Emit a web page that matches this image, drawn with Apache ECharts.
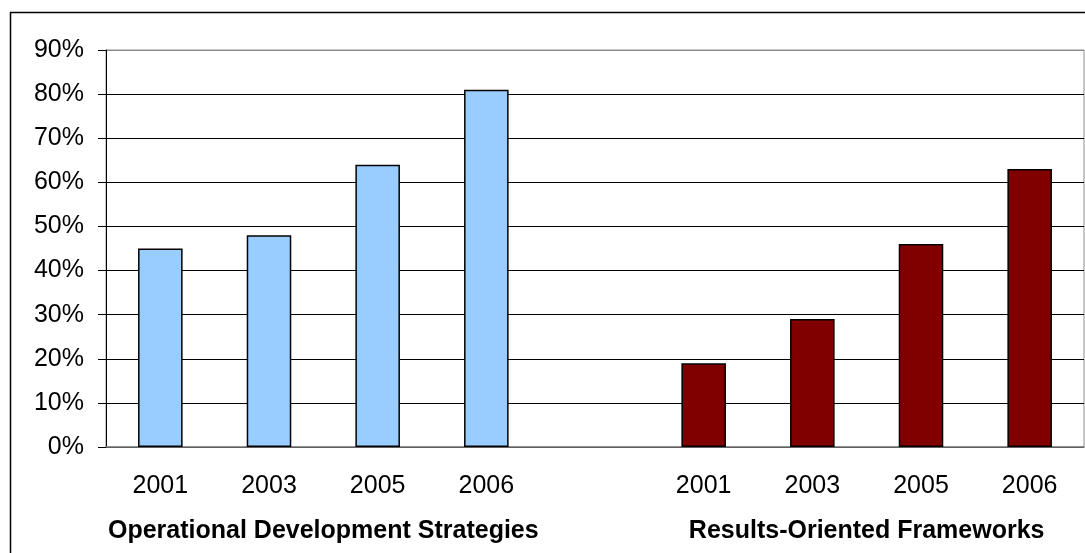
<!DOCTYPE html>
<html>
<head>
<meta charset="utf-8">
<script src="https://cdn.jsdelivr.net/npm/echarts@6/dist/echarts.min.js"></script>
<style>
  html, body { margin: 0; padding: 0; background: #fff; }
  #chart { width: 1085px; height: 553px; }
</style>
</head>
<body>
<div id="chart"></div>
<script>
// Year categories: four survey years per group, with an empty gap slot between groups
const categories = ['2001', '2003', '2005', '2006', '', '2001', '2003', '2005', '2006'];
// Share of countries (%)
const strategiesValues = [45, 48, 64, 81, null, null, null, null, null];
const frameworksValues = [null, null, null, null, null, 19, 29, 46, 63];
const groupNames = ['Operational Development Strategies', 'Results-Oriented Frameworks'];
// Group label positions on a 0..9 scale spanning the category slots
const groupCenters = [2, 7];
const yTicks = [0, 10, 20, 30, 40, 50, 60, 70, 80, 90];

const FONT = 'Liberation Sans, Arial, sans-serif';
const chart = echarts.init(document.getElementById('chart'), null, { renderer: 'canvas' });

const splitColors = yTicks.map((t, i) => (i === yTicks.length - 1 ? '#8c8c8c' : '#000'));

chart.setOption({
  animation: false,
  backgroundColor: '#fff',
  grid: {
    left: 106, right: 1, top: 50, bottom: 106,
    show: true, borderColor: '#8c8c8c', borderWidth: 1, backgroundColor: 'transparent'
  },
  graphic: [{
    type: 'rect',
    shape: { x: 10.5, y: 12.5, width: 1200, height: 700 },
    style: { fill: 'none', stroke: '#000', lineWidth: 1.5 },
    silent: true, z: 100
  }],
  xAxis: [{
    type: 'category',
    data: categories,
    position: 'bottom',
    axisLine: { lineStyle: { color: '#808080', width: 1.5 } },
    axisTick: { length: 9, lineStyle: { color: '#333', width: 1 } },
    axisLabel: { color: '#000', fontFamily: FONT, fontSize: 25, margin: 27 }
  }, {
    type: 'value',
    min: 0, max: 9,
    position: 'bottom',
    offset: 0,
    axisLine: { show: false },
    axisTick: { show: false },
    splitLine: { show: false },
    axisLabel: {
      customValues: groupCenters,
      formatter: v => groupNames[groupCenters.indexOf(v)],
      color: '#000', fontFamily: FONT, fontSize: 25, fontWeight: 'bold', margin: 72
    }
  }],
  yAxis: {
    type: 'value',
    min: 0, max: 90, interval: 10,
    axisLine: { show: true, lineStyle: { color: '#000', width: 1 } },
    axisTick: { show: true, length: 8, lineStyle: { color: '#000' } },
    axisLabel: { formatter: '{value}%', color: '#000', fontFamily: FONT, fontSize: 25, margin: 22 },
    splitLine: { show: true, lineStyle: { color: splitColors, width: 1 } }
  },
  series: [{
    type: 'bar',
    data: strategiesValues,
    barWidth: '41%',
    barGap: '-100%',
    itemStyle: { color: '#99CCFF', borderColor: '#000', borderWidth: 1.5 }
  }, {
    type: 'bar',
    data: frameworksValues,
    barWidth: '41%',
    barGap: '-100%',
    itemStyle: { color: '#800000', borderColor: '#000', borderWidth: 1.5 }
  }]
});
</script>
</body>
</html>
